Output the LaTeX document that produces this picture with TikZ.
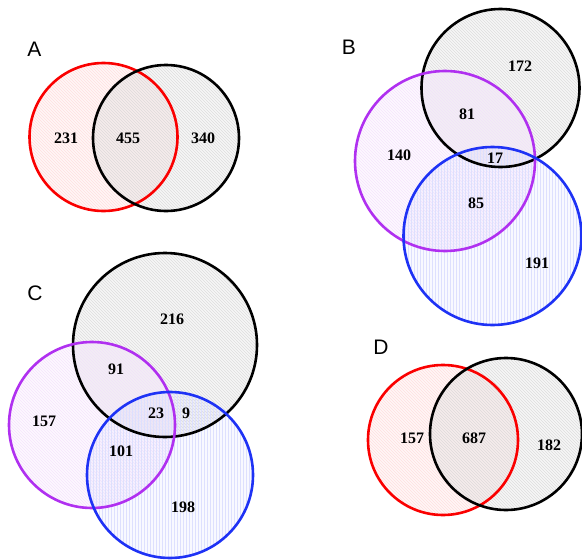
\documentclass[tikz,border=0pt]{standalone}
\usepackage{fontspec}
\setmainfont{Liberation Serif}
\newfontfamily\panelfont{Liberation Sans}
\usepackage{xcolor}
\usetikzlibrary{patterns}

\definecolor{setred}{RGB}{250,0,0}
\definecolor{setblack}{RGB}{0,0,0}
\definecolor{setpurple}{RGB}{176,48,240}
\definecolor{setblue}{RGB}{30,50,245}

\begin{document}
\begin{tikzpicture}[
      x=1pt, y=-1pt,
      num/.style={font=\bfseries\fontsize{16}{18}\selectfont, inner sep=0pt},
      panel/.style={font=\panelfont\fontsize{21}{24}\selectfont, inner sep=0pt},
      ring/.style={line width=2.6pt},
      redset/.style={fill=setred!30, fill opacity=0.12,
        postaction={pattern=north west lines, pattern color=setred!12}},
      blackset/.style={fill=black!30, fill opacity=0.12,
        postaction={pattern=north west lines, pattern color=black!13}},
      purpleset/.style={fill=setpurple!30, fill opacity=0.12,
        postaction={pattern=north west lines, pattern color=setpurple!13}},
      blueset/.style={fill=setblue!30, fill opacity=0.10,
        postaction={pattern=vertical lines, pattern color=setblue!15}},
    ]
    \useasboundingbox (0,0) rectangle (582,560);

    % A
    \fill[redset] (103.5,137) circle (74);
    \fill[blackset] (166,138) circle (73);
    \draw[ring, setred] (103.5,137) circle (74);
    \draw[ring, setblack] (166,138) circle (73);
    \node[panel] (lblA) at (34.5,49.5) {A};
    \node[num] (a1) at (66,138) {231};
    \node[num] (a2) at (128,138) {455};
    \node[num] (a3) at (203,138) {340};

    % B
    \fill[blackset] (500.5,88) circle (79);
    \fill[purpleset] (445,161) circle (90);
    \fill[blueset] (492.5,236) circle (89);
    \draw[ring, setblack] (500.5,88) circle (79);
    \draw[ring, setpurple] (445,161) circle (90);
    \draw[ring, setblue] (492.5,236) circle (89);
    \node[panel] (lblB) at (349,47) {B};
    \node[num] (b1) at (520,66) {172};
    \node[num] (b2) at (467,114) {81};
    \node[num] (b3) at (399,155) {140};
    \node[num] (b4) at (495,158) {17};
    \node[num] (b5) at (476,203) {85};
    \node[num] (b6) at (537,263) {191};

    % C
    \fill[blackset] (165,345) circle (92);
    \fill[purpleset] (92,425) circle (83);
    \fill[blueset] (170,475) circle (83);
    \draw[ring, setblack] (165,345) circle (92);
    \draw[ring, setpurple] (92,425) circle (83);
    \draw[ring, setblue] (170,475) circle (83);
    \node[panel] (lblC) at (35,293) {C};
    \node[num] (c1) at (172,319) {216};
    \node[num] (c2) at (116,369) {91};
    \node[num] (c3) at (44,421) {157};
    \node[num] (c4) at (156,413) {23};
    \node[num] (c5) at (186,413) {9};
    \node[num] (c6) at (121,451) {101};
    \node[num] (c7) at (183,507) {198};

    % D
    \fill[redset] (443,440) circle (75);
    \fill[blackset] (506,434) circle (76);
    \draw[ring, setred] (443,440) circle (75);
    \draw[ring, setblack] (506,434) circle (76);
    \node[panel] (lblD) at (381,347) {D};
    \node[num] (d1) at (412,438) {157};
    \node[num] (d2) at (474,438) {687};
    \node[num] (d3) at (549,445) {182};
  \end{tikzpicture}
\end{document}
